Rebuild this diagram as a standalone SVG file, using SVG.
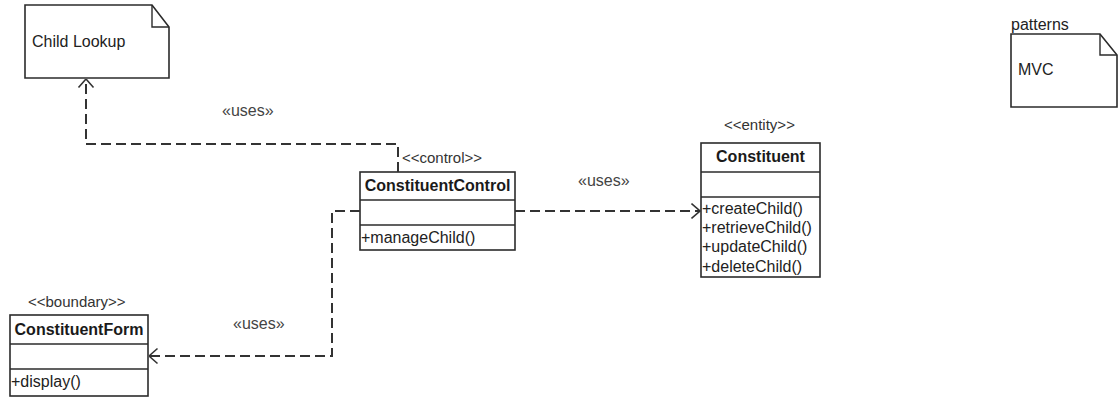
<svg xmlns="http://www.w3.org/2000/svg" width="1118" height="397" viewBox="0 0 1118 397">
  <style>
    .box { fill: #ffffff; stroke: #2b2b2b; stroke-width: 1.6; }
    .sep { stroke: #2b2b2b; stroke-width: 1.4; }
    .dep { fill: none; stroke: #333333; stroke-width: 2; stroke-dasharray: 10 5; }
    .txt { font-family: "Liberation Sans", Arial, sans-serif; font-size: 16px; fill: #222222; }
    .title { font-family: "Liberation Sans", Arial, sans-serif; font-size: 16px; font-weight: bold; fill: #1a1a1a; text-anchor: middle; }
    .stereo { font-family: "Liberation Sans", Arial, sans-serif; font-size: 15px; fill: #333333; }
    .lbl { font-family: "Liberation Sans", Arial, sans-serif; font-size: 16px; fill: #444444; }
  </style>
  <defs>
    <marker id="open" viewBox="0 0 10 18" refX="9.5" refY="9" markerWidth="10" markerHeight="18" markerUnits="userSpaceOnUse" orient="auto">
      <path d="M1,1.5 L9.5,9 L1,16.5" fill="none" stroke="#333333" stroke-width="1.6"/>
    </marker>
  </defs>

  <rect width="1118" height="397" fill="#ffffff"/>

  <!-- note: Child Lookup -->
  <g id="note-child-lookup">
    <path class="box" d="M25,5 H152 L169,27 V78 H25 Z"/>
    <path class="sep" fill="none" d="M152,5 V27 H169"/>
    <text class="txt" x="32" y="47">Child Lookup</text>
  </g>

  <!-- package note: patterns / MVC -->
  <g id="note-patterns">
    <text class="txt" x="1011" y="30">patterns</text>
    <path class="box" d="M1011,34 H1100 L1117,55 V107 H1011 Z"/>
    <path class="sep" fill="none" d="M1100,34 V55 H1117"/>
    <text class="txt" x="1018" y="75">MVC</text>
  </g>

  <!-- class: ConstituentControl -->
  <g id="class-constituent-control">
    <text class="stereo" x="402" y="163">&lt;&lt;control&gt;&gt;</text>
    <rect class="box" x="360" y="172" width="155" height="78"/>
    <line class="sep" x1="360" y1="200" x2="515" y2="200"/>
    <line class="sep" x1="360" y1="225" x2="515" y2="225"/>
    <text class="title" x="437.5" y="191">ConstituentControl</text>
    <text class="txt" x="361" y="243">+manageChild()</text>
  </g>

  <!-- class: Constituent -->
  <g id="class-constituent">
    <text class="stereo" x="724" y="130">&lt;&lt;entity&gt;&gt;</text>
    <rect class="box" x="701" y="143" width="119" height="134"/>
    <line class="sep" x1="701" y1="172" x2="820" y2="172"/>
    <line class="sep" x1="701" y1="197" x2="820" y2="197"/>
    <text class="title" x="760.5" y="162">Constituent</text>
    <text class="txt" x="702" y="214">+createChild()</text>
    <text class="txt" x="702" y="233">+retrieveChild()</text>
    <text class="txt" x="702" y="252">+updateChild()</text>
    <text class="txt" x="702" y="272">+deleteChild()</text>
  </g>

  <!-- class: ConstituentForm -->
  <g id="class-constituent-form">
    <text class="stereo" x="28" y="307">&lt;&lt;boundary&gt;&gt;</text>
    <rect class="box" x="10" y="315" width="138" height="81"/>
    <line class="sep" x1="10" y1="344" x2="148" y2="344"/>
    <line class="sep" x1="10" y1="369" x2="148" y2="369"/>
    <text class="title" x="79" y="335">ConstituentForm</text>
    <text class="txt" x="11" y="387">+display()</text>
  </g>

  <!-- dependencies -->
  <g id="connectors">
    <path class="dep" d="M398,172 V144 H86 V79" marker-end="url(#open)"/>
    <path class="dep" d="M515,211 H700" marker-end="url(#open)"/>
    <path class="dep" d="M360,211 H332 V356 H149" marker-end="url(#open)"/>
    <text class="lbl" x="222" y="116">«uses»</text>
    <text class="lbl" x="578" y="186">«uses»</text>
    <text class="lbl" x="233" y="329">«uses»</text>
  </g>
</svg>
